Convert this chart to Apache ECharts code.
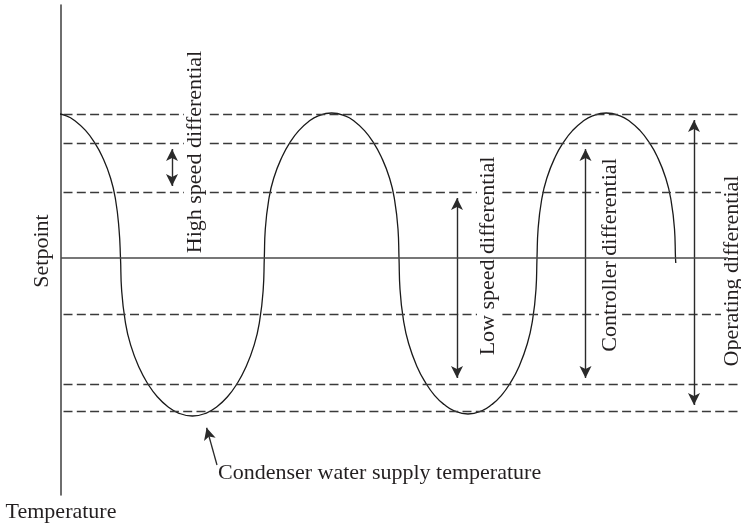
<!DOCTYPE html>
<html>
<head>
<meta charset="utf-8">
<script src="https://cdn.jsdelivr.net/npm/echarts@6/dist/echarts.min.js"></script>
<style>
  html, body { margin: 0; padding: 0; background: #ffffff; }
  #chart { width: 741px; height: 523px; }
</style>
</head>
<body>
<div id="chart"></div>
<script>
// Axis ranges (time runs left to right, temperature relative to the setpoint)
const timeMin = 0;
const timeMax = 680;
const tempMin = -23.7;
const tempMax = 25.3;

// Setpoint and the dashed differential band limits
const setpoint = 0;
const setpointEnd = 667;
const dashedLevels = [14.4, 11.5, 6.6, -5.6, -12.6, -15.3];

// Condenser water supply temperature trace
const curveTime = [
  -8, 5.4, 15.1, 24.5, 33.2, 41.2, 49.6, 54.6, 58, 59.5,
  60.6, 64.2, 69.6, 78.6, 87.2, 96.5, 106.6, 117, 131.4, 145.8, 156.2, 166.3, 175.6, 184.2, 193.2, 198.6, 202.2, 203.3,
  204.3, 207.7, 212.7, 221.2, 229.2, 238, 247.4, 257.2, 270.6, 284.1, 293.9, 303.3, 312.1, 320.1, 328.6, 333.6, 337, 338,
  339, 342.5, 347.7, 356.3, 364.6, 373.5, 383.2, 393.2, 407, 420.8, 430.8, 440.5, 449.4, 457.7, 466.3, 471.5, 475, 476,
  477.1, 480.6, 485.8, 494.4, 502.7, 511.7, 521.4, 531.5, 545.3, 559.1, 569.2, 578.9, 587.9, 596.2, 604.8, 610, 613.5, 614.5, 614.8
];
const curveTemp = [
  14.5, 14.21, 13.63, 12.76, 11.6, 10.15, 7.98, 5.8, 2.9, 0,
  -3.16, -6.32, -8.69, -11.06, -12.64, -13.9, -14.85, -15.48, -15.8, -15.48, -14.85, -13.9, -12.64, -11.06, -8.69, -6.32, -3.16, 0,
  2.9, 5.8, 7.98, 10.15, 11.6, 12.76, 13.63, 14.21, 14.5, 14.21, 13.63, 12.76, 11.6, 10.15, 7.98, 5.8, 2.9, 0,
  -3.12, -6.24, -8.58, -10.92, -12.48, -13.73, -14.66, -15.29, -15.6, -15.29, -14.66, -13.73, -12.48, -10.92, -8.58, -6.24, -3.12, 0,
  2.9, 5.8, 7.98, 10.15, 11.6, 12.76, 13.63, 14.21, 14.5, 14.21, 13.63, 12.76, 11.6, 10.15, 7.98, 5.8, 2.9, 0, -0.5
];

// Double-headed differential arrows
const arrowNames = ['High speed differential', 'Low speed differential', 'Controller differential', 'Operating differential'];
const arrowTime = [111, 396, 524.5, 633];
const arrowTop = [11.5, 6.6, 11.5, 14.4];
const arrowBottom = [6.6, -12.6, -12.6, -15.3];

// Pointer from the caption to the trace
const pointerTail = [156, -20.7];
const pointerTip = [144, -16.4];

const FONT = '"Liberation Serif", "Times New Roman", serif';
const FONT_SIZE = 22;
const INK = '#231f20';
const HEAD_INSET = 0.6; // half an arrowhead, in temperature units (10 px per unit)

const chart = echarts.init(document.getElementById('chart'), null, { renderer: 'canvas' });

const curveData = curveTime.map((t, i) => [t, curveTemp[i]]);

const dashedLines = dashedLevels.map(v => [
  { coord: [2.5, v] },
  { coord: [timeMax, v] }
]);

const diffArrows = arrowTime.map((t, i) => [
  { coord: [t, arrowTop[i] - HEAD_INSET] },
  { coord: [t, arrowBottom[i] + HEAD_INSET] }
]);

// pull the pointer's arrowhead back half a head so its point lands on the tip
const pdxPx = pointerTip[0] - pointerTail[0];
const pdyPx = (pointerTip[1] - pointerTail[1]) * 10;
const pLenPx = Math.hypot(pdxPx, pdyPx);
const pointerHead = [
  pointerTip[0] - pdxPx / pLenPx * 6,
  pointerTip[1] - pdyPx / pLenPx * 0.6
];

const vertLabels = [
  { text: 'Setpoint', x: 42, y: 251 },
  { text: arrowNames[0], x: 195, y: 152 },
  { text: arrowNames[1], x: 488, y: 256 },
  { text: arrowNames[2], x: 610, y: 255 },
  { text: arrowNames[3], x: 732, y: 271 }
];

const option = {
  animation: false,
  backgroundColor: '#ffffff',
  grid: {
    left: 61, right: 0, top: 5, bottom: 28,
    containLabel: false,
    outerBoundsMode: 'none'
  },
  xAxis: {
    type: 'value',
    min: timeMin,
    max: timeMax,
    axisLine: { show: false },
    axisTick: { show: false },
    axisLabel: { show: false },
    splitLine: { show: false }
  },
  yAxis: {
    type: 'value',
    min: tempMin,
    max: tempMax,
    name: 'Temperature',
    nameLocation: 'start',
    nameGap: 6,
    nameTextStyle: { fontFamily: FONT, fontSize: FONT_SIZE, color: INK },
    axisLine: { show: true, onZero: false, lineStyle: { color: '#4a4a4a', width: 1.6 } },
    axisTick: { show: false },
    axisLabel: { show: false },
    splitLine: { show: false }
  },
  series: [
    {
      name: 'Condenser water supply temperature',
      type: 'line',
      data: curveData,
      smooth: 0.5,
      showSymbol: false,
      clip: false,
      silent: true,
      lineStyle: { color: '#1a1a1a', width: 1.3 },
      z: 3
    },
    {
      name: 'levels',
      type: 'line',
      data: [],
      silent: true,
      markLine: {
        silent: true,
        symbol: ['none', 'none'],
        label: { show: false },
        lineStyle: { color: '#3a3a3a', width: 1.3, type: [9, 4.3] },
        data: dashedLines
      },
      z: 2
    },
    {
      // solid setpoint line, drawn above the label boxes
      name: 'setpoint',
      type: 'line',
      data: [],
      silent: true,
      markLine: {
        silent: true,
        z: 150,
        symbol: ['none', 'none'],
        label: { show: false },
        lineStyle: { color: '#4a4a4a', width: 1.6, type: 'solid' },
        data: [[{ coord: [timeMin, setpoint] }, { coord: [setpointEnd, setpoint] }]]
      },
      z: 150
    },
    {
      name: 'differentials',
      type: 'line',
      data: [],
      silent: true,
      markLine: {
        silent: true,
        symbol: ['arrow', 'arrow'],
        symbolSize: [9, 12],
        label: { show: false },
        lineStyle: { color: '#2a2a2a', width: 1.4, type: 'solid' },
        itemStyle: { color: '#2a2a2a' },
        data: diffArrows
      },
      z: 4
    },
    {
      name: 'pointer',
      type: 'line',
      data: [],
      silent: true,
      markLine: {
        silent: true,
        symbol: ['none', 'arrow'],
        symbolSize: [9, 12],
        label: { show: false },
        lineStyle: { color: '#2a2a2a', width: 1.3, type: 'solid' },
        itemStyle: { color: '#2a2a2a' },
        data: [[{ coord: pointerTail }, { coord: pointerHead }]]
      },
      z: 4
    }
  ],
  // vertical labels sit on a white box so the dashed lines break around them
  graphic: vertLabels.map(l => ({
    type: 'text',
    x: l.x,
    y: l.y,
    rotation: Math.PI / 2,
    silent: true,
    z: 100,
    style: {
      text: l.text,
      fontFamily: FONT,
      fontSize: FONT_SIZE,
      fill: INK,
      align: 'center',
      verticalAlign: 'middle',
      backgroundColor: '#ffffff',
      padding: [0, 3]
    }
  })).concat([{
    type: 'text',
    x: 218,
    y: 473,
    silent: true,
    z: 100,
    style: {
      text: 'Condenser water supply temperature',
      fontFamily: FONT,
      fontSize: FONT_SIZE,
      fill: INK,
      align: 'left',
      verticalAlign: 'middle'
    }
  }])
};

chart.setOption(option);
</script>
</body>
</html>
